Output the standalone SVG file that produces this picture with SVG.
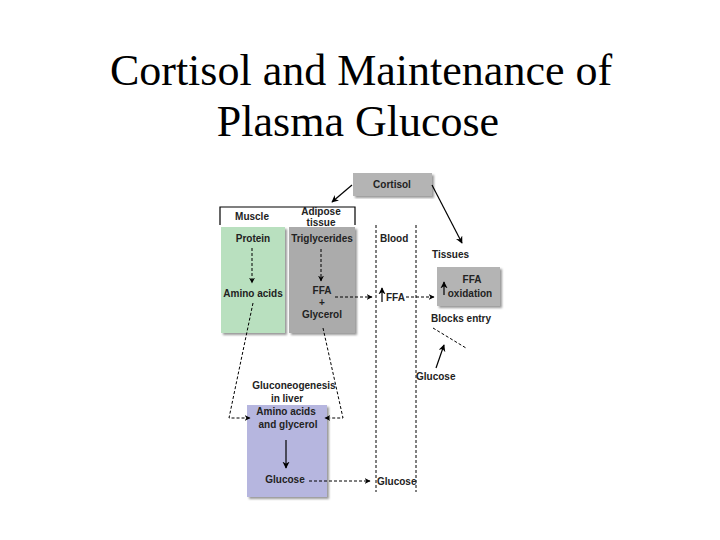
<svg xmlns="http://www.w3.org/2000/svg" width="720" height="540" viewBox="0 0 720 540">
<defs>
<marker id="ah" viewBox="0 0 10 10" refX="9" refY="5" markerWidth="6" markerHeight="6" orient="auto"><path d="M0,0 L10,5 L0,10 L3,5 z" fill="#000"/></marker>
<filter id="sh"><feDropShadow dx="2" dy="2" stdDeviation="1" flood-color="#999"/></filter>
</defs>
<style>
.t{font-family:"Liberation Sans",Arial,sans-serif;font-size:10px;font-weight:bold;fill:#222}
.ttl{font-family:"Liberation Serif","Times New Roman",serif;font-size:44px;fill:#000}
.c{stroke:#000;stroke-width:1.2;fill:none}
.d{stroke:#000;stroke-width:1;fill:none;stroke-dasharray:3,2}
</style>
<rect width="720" height="540" fill="#fff"/>
<text class="ttl" x="361" y="85" text-anchor="middle">Cortisol and Maintenance of</text>
<text class="ttl" x="358" y="136" text-anchor="middle">Plasma Glucose</text>
<g id="cortisol"><rect x="353" y="173" width="79" height="23" fill="#b4b4b4" filter="url(#sh)"/><text class="t" x="392" y="188" text-anchor="middle">Cortisol</text></g>
<g id="header"><path d="M220,225 V207 H355 V225" class="c" stroke-width="1"/><text class="t" x="252" y="220" text-anchor="middle">Muscle</text><text class="t" x="321" y="215" text-anchor="middle">Adipose</text><text class="t" x="321" y="226" text-anchor="middle">tissue</text></g>
<g id="muscle"><rect x="221" y="227" width="64" height="106" fill="#b9e0bf" filter="url(#sh)"/><text class="t" x="253" y="242" text-anchor="middle">Protein</text><text class="t" x="253" y="297" text-anchor="middle">Amino acids</text></g>
<g id="adipose"><rect x="289" y="227" width="66" height="106" fill="#ababab" filter="url(#sh)"/><text class="t" x="322" y="242" text-anchor="middle">Triglycerides</text><text class="t" x="322" y="294" text-anchor="middle">FFA</text><text class="t" x="322" y="306" text-anchor="middle">+</text><text class="t" x="322" y="318" text-anchor="middle">Glycerol</text></g>
<g id="blood"><line x1="376" y1="225" x2="376" y2="492" class="d"/><line x1="416" y1="225" x2="416" y2="492" class="d"/><text class="t" x="380" y="242">Blood</text><text class="t" x="386" y="301">FFA</text><text class="t" x="377" y="485">Glucose</text></g>
<g id="tissues"><text class="t" x="432" y="258">Tissues</text><rect x="437" y="267" width="63" height="39" fill="#b4b4b4" filter="url(#sh)"/><text class="t" x="472" y="283" text-anchor="middle">FFA</text><text class="t" x="470" y="297" text-anchor="middle">oxidation</text><text class="t" x="431" y="322">Blocks entry</text><text class="t" x="416" y="380">Glucose</text></g>
<g id="liver"><rect x="247" y="405" width="80" height="92" fill="#b6b6df" filter="url(#sh)"/><text class="t" x="294" y="389" text-anchor="middle">Gluconeogenesis</text><text class="t" x="287" y="402" text-anchor="middle">in liver</text><text class="t" x="286" y="415" text-anchor="middle">Amino acids</text><text class="t" x="288" y="428" text-anchor="middle">and glycerol</text><text class="t" x="285" y="483" text-anchor="middle">Glucose</text></g>
<g id="connectors">
<line x1="352" y1="185" x2="332" y2="202" class="c" marker-end="url(#ah)"/>
<line x1="432" y1="185" x2="462" y2="243" class="c" marker-end="url(#ah)"/>
<line x1="252" y1="248" x2="252" y2="283" class="d" marker-end="url(#ah)"/>
<line x1="321" y1="249" x2="321" y2="281" class="d" marker-end="url(#ah)"/>
<line x1="335" y1="297" x2="372" y2="297" class="d" marker-end="url(#ah)"/>
<line x1="406" y1="297" x2="434" y2="297" class="d" marker-end="url(#ah)"/>
<line x1="382" y1="302" x2="382" y2="288" class="c" marker-end="url(#ah)"/>
<line x1="444" y1="295" x2="444" y2="282" class="c" marker-end="url(#ah)"/>
<path d="M253,303 L229,418 H250" class="d" stroke-width="1.3" marker-end="url(#ah)"/>
<path d="M323,328 L343,418 H325" class="d" stroke-width="1.3" marker-end="url(#ah)"/>
<line x1="286" y1="440" x2="286" y2="468" class="c" marker-end="url(#ah)"/>
<line x1="309" y1="481" x2="370" y2="481" class="d" marker-end="url(#ah)"/>
<line x1="436" y1="368" x2="444" y2="345" class="c" marker-end="url(#ah)"/>
<line x1="433" y1="328" x2="466" y2="348" class="d"/>
</g>
</svg>
